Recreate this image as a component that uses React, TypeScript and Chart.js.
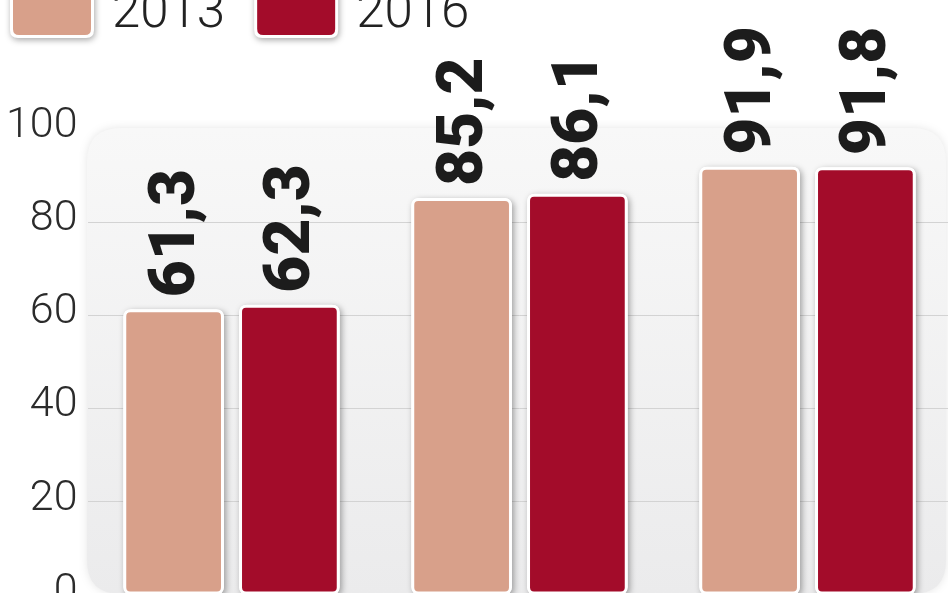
import React, { useEffect, useRef } from "react";
import { Chart, registerables } from "chart.js";

Chart.register(...registerables);

const categories = ["Grupa 1", "Grupa 2", "Grupa 3"];
const seriesLabels = ["2013", "2016"];
const values2013 = [61.3, 85.2, 91.9];
const values2016 = [62.3, 86.1, 91.8];
const yTicks = [0, 20, 40, 60, 80, 100];

const COLOR_2013 = "#d8a08a";
const COLOR_2016 = "#a30c2a";

const CANVAS_W = 960;
const CANVAS_H = 640;

function roundRect(ctx: CanvasRenderingContext2D, x: number, y: number, w: number, h: number, r: number) {
  ctx.beginPath();
  ctx.moveTo(x + r, y);
  ctx.lineTo(x + w - r, y);
  ctx.quadraticCurveTo(x + w, y, x + w, y + r);
  ctx.lineTo(x + w, y + h - r);
  ctx.quadraticCurveTo(x + w, y + h, x + w - r, y + h);
  ctx.lineTo(x + r, y + h);
  ctx.quadraticCurveTo(x, y + h, x, y + h - r);
  ctx.lineTo(x, y + r);
  ctx.quadraticCurveTo(x, y, x + r, y);
  ctx.closePath();
}

const plotBgPlugin = {
  id: "plotBg",
  beforeDraw(chart: any) {
    const { ctx, chartArea } = chart;
    const x = chartArea.left - 0.5;
    const y = chartArea.top - 1;
    const w = 946 - x;
    const h = 594 - y;
    ctx.save();
    ctx.shadowColor = "rgba(0,0,0,0.10)";
    ctx.shadowBlur = 8;
    const g = ctx.createLinearGradient(0, y, 0, y + h);
    g.addColorStop(0, "#f8f8f8");
    g.addColorStop(1, "#ebebec");
    ctx.fillStyle = g;
    roundRect(ctx, x, y, w, h, 34);
    ctx.fill();
    ctx.restore();
  },
};

const barShadowPlugin = {
  id: "barShadow",
  beforeDatasetsDraw(chart: any) {
    const { ctx } = chart;
    ctx.save();
    ctx.shadowColor = "rgba(0,0,0,0.35)";
    ctx.shadowBlur = 6;
    ctx.shadowOffsetX = 2;
    ctx.shadowOffsetY = 2;
    ctx.fillStyle = "#ffffff";
    chart.data.datasets.forEach((_: any, di: number) => {
      const meta = chart.getDatasetMeta(di);
      meta.data.forEach((el: any) => {
        const w = el.width;
        roundRect(ctx, el.x - w / 2, el.y, w, el.base - el.y, 8);
        ctx.fill();
      });
    });
    ctx.restore();
  },
  afterDatasetsDraw(chart: any) {
    const { ctx } = chart;
    ctx.save();
    ctx.fillStyle = "#1c1c1c";
    ctx.font = "900 64px Roboto";
    ctx.textAlign = "left";
    ctx.textBaseline = "middle";
    chart.data.datasets.forEach((ds: any, di: number) => {
      const meta = chart.getDatasetMeta(di);
      meta.data.forEach((el: any, i: number) => {
        const txt = Number(ds.data[i]).toFixed(1).replace(".", ",");
        ctx.save();
        ctx.translate(el.x + 4, el.y - 12);
        ctx.rotate(-Math.PI / 2);
        ctx.fillText(txt, 0, 0);
        ctx.restore();
      });
    });
    ctx.restore();
  },
};

const legendPlugin = {
  id: "customLegend",
  afterDraw(chart: any) {
    const { ctx } = chart;
    ctx.save();
    let x = 10;
    const sw = 84;
    const sy = -22;
    const sh = 60;
    ctx.font = "300 51px Roboto";
    chart.data.datasets.forEach((ds: any) => {
      ctx.save();
      ctx.shadowColor = "rgba(0,0,0,0.35)";
      ctx.shadowBlur = 6;
      ctx.shadowOffsetX = 1;
      ctx.shadowOffsetY = 2;
      ctx.fillStyle = "#ffffff";
      roundRect(ctx, x, sy, sw, sh, 8);
      ctx.fill();
      ctx.restore();
      ctx.fillStyle = ds.backgroundColor;
      roundRect(ctx, x + 3, sy + 3, sw - 6, sh - 6, 6);
      ctx.fill();
      const tx = x + sw + 18;
      ctx.fillStyle = "#222222";
      ctx.textAlign = "left";
      ctx.textBaseline = "alphabetic";
      ctx.fillText(ds.label, tx, 27);
      const tw = ctx.measureText(ds.label).width;
      x = tx + tw + 29;
    });
    ctx.restore();
  },
};

export default function App() {
  const canvasRef = useRef<HTMLCanvasElement | null>(null);

  useEffect(() => {
    if (!canvasRef.current) return;
    Chart.defaults.font.family = "Roboto";
    const chart = new Chart(canvasRef.current, {
      type: "bar",
      data: {
        labels: categories,
        datasets: [
          {
            label: seriesLabels[0],
            data: values2013,
            backgroundColor: COLOR_2013,
            borderColor: "#ffffff",
            borderWidth: 3,
            borderRadius: 7,
            borderSkipped: false,
            categoryPercentage: 0.804,
            barPercentage: 0.87,
          },
          {
            label: seriesLabels[1],
            data: values2016,
            backgroundColor: COLOR_2016,
            borderColor: "#ffffff",
            borderWidth: 3,
            borderRadius: 7,
            borderSkipped: false,
            categoryPercentage: 0.804,
            barPercentage: 0.87,
          },
        ],
      },
      options: {
        responsive: false,
        animation: false,
        devicePixelRatio: 1,
        layout: { padding: { top: 129, bottom: 45, left: 0, right: 8.5 } },
        plugins: {
          legend: { display: false },
          tooltip: { enabled: false },
        },
        scales: {
          x: { display: false },
          y: {
            min: 0,
            max: 100,
            afterFit(scale: any) {
              scale.width = 87.5;
            },
            afterBuildTicks(scale: any) {
              scale.ticks = yTicks.map((v) => ({ value: v }));
            },
            ticks: {
              stepSize: 20,
              padding: 10,
              labelOffset: -3,
              color: "#2b2b2b",
              font: { family: "Roboto", size: 43, weight: 300 as any },
            },
            grid: {
              drawTicks: false,
              color: (c: any) => (c.tick && (c.tick.value === 0 || c.tick.value === 100) ? "rgba(0,0,0,0)" : "#d3d3d3"),
              lineWidth: 1,
            },
            border: { display: false },
          },
        },
      },
      plugins: [plotBgPlugin, barShadowPlugin, legendPlugin],
    });
    return () => chart.destroy();
  }, []);

  return (
    <div
      style={{
        position: "fixed",
        left: 0,
        top: 0,
        width: 948,
        height: 593,
        overflow: "hidden",
        background: "#ffffff",
      }}
    >
      <canvas
        ref={canvasRef}
        width={CANVAS_W}
        height={CANVAS_H}
        style={{ display: "block", width: CANVAS_W, height: CANVAS_H }}
      />
    </div>
  );
}
